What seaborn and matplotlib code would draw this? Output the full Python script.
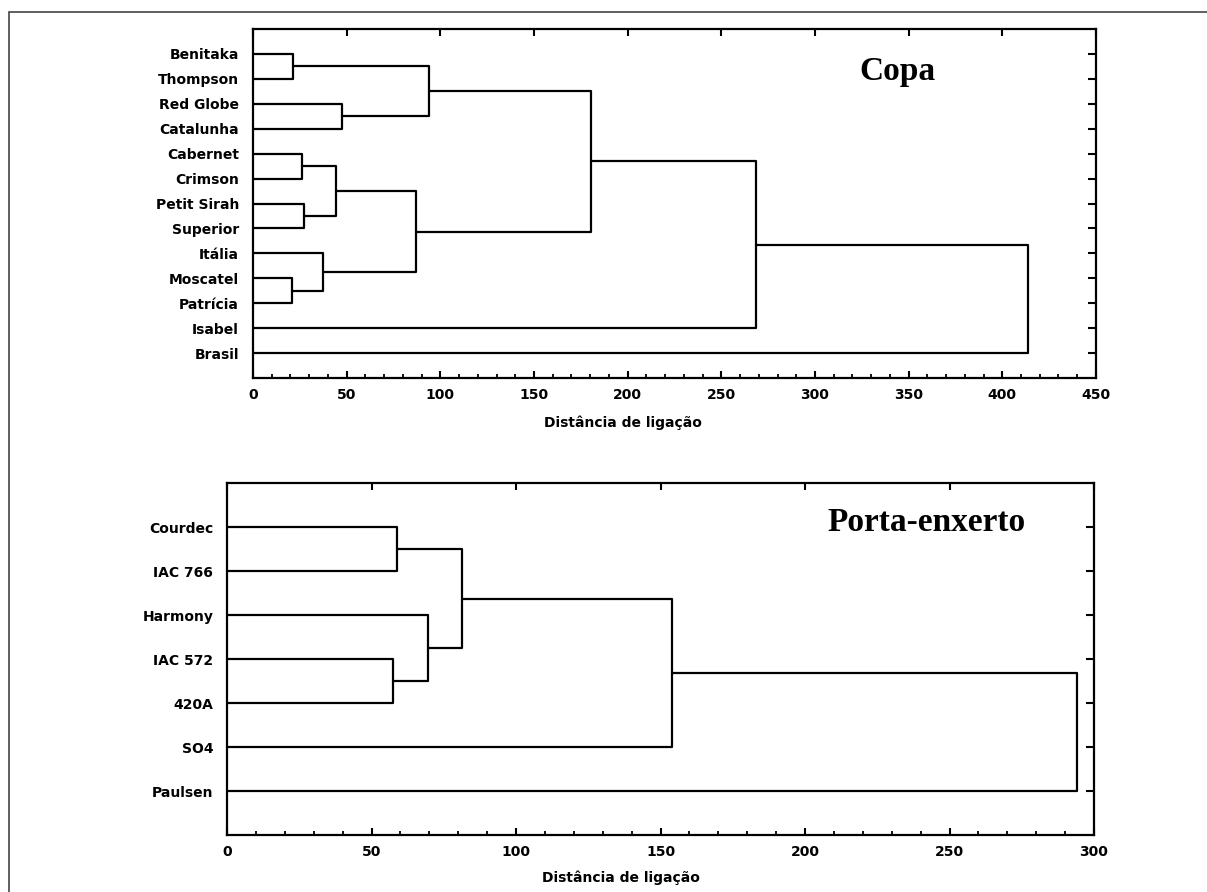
import pandas as pd
import seaborn as sns
import matplotlib.pyplot as plt
from matplotlib.patches import Rectangle
from matplotlib.ticker import MultipleLocator


# data: leaves top to bottom, merges as (left, right, height) like a linkage table
copa_leaves = ['Benitaka', 'Thompson', 'Red Globe', 'Catalunha', 'Cabernet',
               'Crimson', 'Petit Sirah', 'Superior', 'Itália', 'Moscatel',
               'Patrícia', 'Isabel', 'Brasil']
copa_left = [0, 2, 13, 4, 6, 16, 9, 8, 18, 15, 22, 23]
copa_right = [1, 3, 14, 5, 7, 17, 10, 19, 20, 21, 11, 12]
copa_height = [21.4, 47.3, 93.8, 26.3, 27.0, 44.1, 20.6, 37.4, 87.0, 180.3,
               268.5, 413.5]

porta_leaves = ['Courdec', 'IAC 766', 'Harmony', 'IAC 572', '420A', 'SO4',
                'Paulsen']
porta_left = [0, 3, 2, 7, 10, 11]
porta_right = [1, 4, 8, 9, 5, 6]
porta_height = [58.8, 57.4, 69.6, 81.3, 154.0, 294.0]


# helpers
def link_segments(leaves, left, right, height):
    n = len(leaves)
    xs = [0.0] * n
    ys = [i + 1.0 for i in range(n)]
    rows = []
    for k, (a, b, h) in enumerate(zip(left, right, height)):
        pts = [(xs[a], ys[a]), (h, ys[a]), (h, ys[b]), (xs[b], ys[b])]
        for order, (px, py) in enumerate(pts):
            rows.append({'link': k, 'order': order, 'x': px, 'y': py})
        xs.append(h)
        ys.append((ys[a] + ys[b]) / 2)
    return pd.DataFrame(rows)


def draw_dendrogram(ax, leaves, left, right, height, xmax, title, title_xy,
                    label_xy):
    data = link_segments(leaves, left, right, height)
    sns.lineplot(data=data, x='x', y='y', units='link', estimator=None,
                 sort=False, color='black', linewidth=1.6, ax=ax)
    n = len(leaves)
    ax.set_xlim(0, xmax)
    ax.set_ylim(n + 1, 0)
    ax.set_yticks(range(1, n + 1))
    ax.set_yticklabels(leaves, fontweight='bold', fontsize=10)
    ax.xaxis.set_major_locator(MultipleLocator(50))
    ax.xaxis.set_minor_locator(MultipleLocator(10))
    for lab in ax.get_xticklabels():
        lab.set_fontweight('bold')
        lab.set_fontsize(10)
    ax.tick_params(axis='x', which='major', direction='in', length=5,
                   width=1.5, bottom=True, top=True, pad=7)
    ax.tick_params(axis='x', which='minor', direction='in', length=3,
                   width=1.3, bottom=True, top=False)
    ax.tick_params(axis='y', left=False, right=True, direction='in',
                   length=6, width=1.5, pad=10)
    for sp in ax.spines.values():
        sp.set_visible(True)
        sp.set_linewidth(1.6)
        sp.set_color('black')
    ax.set_ylabel('')
    ax.set_xlabel('Distância de ligação', fontweight='bold', fontsize=10)
    ax.xaxis.label.set_va('center')
    ax.xaxis.set_label_coords(*label_xy)
    ax.text(title_xy[0], title_xy[1], title, transform=ax.transAxes,
            ha='center', va='center', fontsize=24, fontweight='bold',
            family='Liberation Serif', color='black')


sns.set_theme(style='white')
plt.rcParams['font.family'] = ['DejaVu Sans']
plt.rcParams['text.color'] = 'black'
plt.rcParams['axes.labelcolor'] = 'black'
plt.rcParams['xtick.color'] = 'black'
plt.rcParams['ytick.color'] = 'black'

fig = plt.figure(figsize=(12.07, 8.92), dpi=100)
fig.add_artist(Rectangle((9 / 1207, -0.05), 1.1, 1.05 - 12 / 892,
                         transform=fig.transFigure, fill=False,
                         edgecolor='#444444', linewidth=1.2))

ax_top = fig.add_axes([0.2096, 0.5762, 0.6984, 0.3913])
draw_dendrogram(ax_top, copa_leaves, copa_left, copa_right, copa_height,
                450, 'Copa', (0.764, 0.877), (0.439, -0.129))

ax_bot = fig.add_axes([0.1881, 0.0639, 0.7183, 0.3946])
draw_dendrogram(ax_bot, porta_leaves, porta_left, porta_right, porta_height,
                300, 'Porta-enxerto', (0.807, 0.889), (0.454, -0.122))

fig.savefig('out.png', dpi=100)
